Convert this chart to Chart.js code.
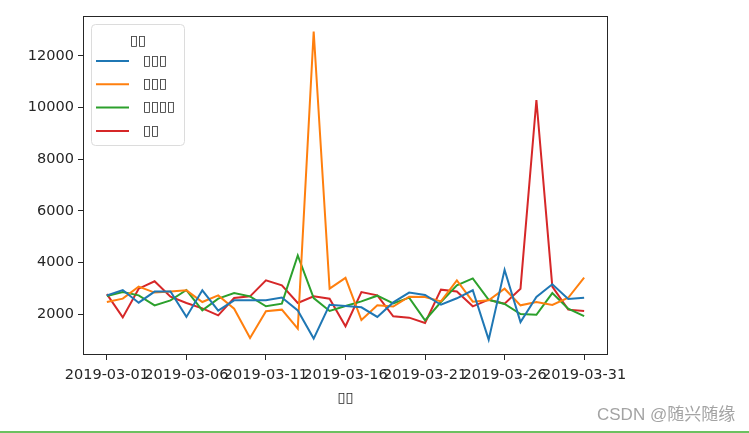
<!DOCTYPE html>
<html>
<head>
<meta charset="utf-8">
<script src="https://cdn.jsdelivr.net/npm/chart.js@4/dist/chart.umd.min.js"></script>
<style>
  html, body { margin: 0; padding: 0; background: #ffffff; }
  #wrap { position: relative; width: 749px; height: 433px; }
  canvas { display: block; }
</style>
</head>
<body>
<div id="wrap"><canvas id="c" width="749" height="433"></canvas></div>
<script>
// ---- data ----
const dates = [
  '2019-03-01','2019-03-02','2019-03-03','2019-03-04','2019-03-05','2019-03-06','2019-03-07',
  '2019-03-08','2019-03-09','2019-03-10','2019-03-11','2019-03-12','2019-03-13','2019-03-14',
  '2019-03-15','2019-03-16','2019-03-17','2019-03-18','2019-03-19','2019-03-20','2019-03-21',
  '2019-03-22','2019-03-23','2019-03-24','2019-03-25','2019-03-26','2019-03-27','2019-03-28',
  '2019-03-29','2019-03-30','2019-03-31'
];
const seriesNames = ['▯▯▯', '▯▯▯', '▯▯▯▯', '▯▯'];
const legendTitle = '▯▯';
const xAxisTitle = '▯▯';
const blueValues = [2733, 2940, 2450, 2880, 2880, 1900, 2930, 2140, 2540, 2540, 2540, 2650, 2150, 1060, 2370, 2320,
  2270, 1900, 2460, 2840, 2750, 2370, 2620, 2930, 1020, 3720, 1700, 2670, 3160, 2590, 2640];
const orangeValues = [2476, 2605, 3070, 2840, 2880, 2927, 2476, 2733, 2219, 1085, 2116, 2180, 1447, 12940, 2991, 3410,
  1780, 2347, 2300, 2680, 2670, 2500, 3313, 2490, 2540, 2991, 2347, 2476, 2360, 2640, 3416];
const greenValues = [2710, 2862, 2733, 2347, 2540, 2940, 2154, 2605, 2823, 2695, 2309, 2412, 4278, 2630, 2129, 2320,
  2500, 2720, 2420, 2644, 1768, 2476, 3120, 3390, 2560, 2400, 2010, 1980, 2823, 2219, 1930];
const redValues = [2780, 1880, 2990, 3280, 2680, 2440, 2230, 1961, 2630, 2695, 3313, 3120, 2437, 2695, 2605, 1537,
  2862, 2733, 1923, 1871, 1665, 2953, 2880, 2309, 2566, 2412, 2991, 10290, 3070, 2180, 2129];
const xTickIndex = [0, 5, 10, 15, 20, 25, 30];
const yTickValues = [2000, 4000, 6000, 8000, 10000, 12000];
const watermark = 'CSDN @随兴随缘';

const colors = ['#1f77b4', '#ff7f0e', '#2ca02c', '#d62728'];
const allSeries = [blueValues, orangeValues, greenValues, redValues];

const datasets = allSeries.map((vals, k) => ({
  label: seriesNames[k],
  data: vals.map((v, i) => ({ x: i, y: v })),
  borderColor: colors[k],
  backgroundColor: colors[k],
  borderWidth: 2,
  pointRadius: 0,
  tension: 0,
  fill: false
}));

const tickFont = { family: 'DejaVu Sans', size: 14.5 };
const textColor = '#262626';

const framePlugin = {
  id: 'frame',
  afterDatasetsDraw(chart) {
    const { ctx, chartArea: a } = chart;
    ctx.save();
    ctx.strokeStyle = '#262626';
    ctx.lineWidth = 1;
    ctx.strokeRect(Math.round(a.left) + 0.5, Math.round(a.top) + 0.5,
      Math.round(a.right - a.left) - 1, Math.round(a.bottom - a.top) - 1);
    ctx.restore();
  }
};

const legendPlugin = {
  id: 'innerLegend',
  afterDraw(chart) {
    const { ctx } = chart;
    ctx.save();
    const bx = 91.5, by = 24.5, bw = 93, bh = 121, r = 4;
    ctx.beginPath();
    ctx.moveTo(bx + r, by);
    ctx.arcTo(bx + bw, by, bx + bw, by + bh, r);
    ctx.arcTo(bx + bw, by + bh, bx, by + bh, r);
    ctx.arcTo(bx, by + bh, bx, by, r);
    ctx.arcTo(bx, by, bx + bw, by, r);
    ctx.closePath();
    ctx.fillStyle = 'rgba(255,255,255,0.8)';
    ctx.fill();
    ctx.strokeStyle = '#dcdcdc';
    ctx.lineWidth = 1;
    ctx.stroke();
    ctx.font = '14.5px "DejaVu Sans"';
    ctx.fillStyle = textColor;
    ctx.textBaseline = 'middle';
    ctx.textAlign = 'center';
    ctx.fillText(legendTitle, 138, 41);
    ctx.textAlign = 'left';
    chart.data.datasets.forEach((ds, k) => {
      const y = 61 + k * 23.3;
      ctx.strokeStyle = ds.borderColor;
      ctx.lineWidth = 2;
      ctx.beginPath();
      ctx.moveTo(96, y);
      ctx.lineTo(129, y);
      ctx.stroke();
      ctx.fillStyle = textColor;
      ctx.fillText(ds.label, 143, y);
    });
    ctx.restore();
  }
};

const extrasPlugin = {
  id: 'extras',
  afterDraw(chart) {
    const { ctx } = chart;
    ctx.save();
    ctx.font = '17px "Liberation Sans", "Noto Sans CJK SC"';
    ctx.fillStyle = '#a3a3a3';
    ctx.textBaseline = 'middle';
    ctx.textAlign = 'left';
    ctx.fillText(watermark, 597, 415);
    ctx.fillStyle = '#6cc160';
    ctx.fillRect(0, 431, 749, 2);
    ctx.restore();
  }
};

const bgPlugin = {
  id: 'bg',
  beforeDraw(chart) {
    const { ctx } = chart;
    ctx.save();
    ctx.fillStyle = '#ffffff';
    ctx.fillRect(0, 0, chart.width, chart.height);
    ctx.restore();
  }
};

new Chart(document.getElementById('c'), {
  type: 'line',
  data: { datasets },
  options: {
    responsive: false,
    animation: false,
    events: [],
    layout: { padding: { left: 0, right: 141, top: 16, bottom: 0 } },
    plugins: { legend: { display: false }, tooltip: { enabled: false } },
    scales: {
      x: {
        type: 'linear',
        min: -1.5,
        max: 31.5,
        afterBuildTicks(scale) { scale.ticks = xTickIndex.map(v => ({ value: v })); },
        afterFit(scale) { scale.height = 78; },
        ticks: {
          autoSkip: false,
          maxRotation: 0,
          minRotation: 0,
          padding: 7,
          color: textColor,
          font: tickFont,
          callback: (v) => dates[v]
        },
        grid: { display: true, drawOnChartArea: false, drawTicks: true, tickLength: 5, tickColor: '#262626' },
        border: { display: false },
        title: {
          display: true,
          text: xAxisTitle,
          color: textColor,
          font: tickFont,
          padding: { top: 0, bottom: 25.6 }
        }
      },
      y: {
        type: 'linear',
        min: 426,
        max: 13540,
        afterBuildTicks(scale) { scale.ticks = yTickValues.map(v => ({ value: v })); },
        afterFit(scale) { scale.width = 83; },
        ticks: { padding: 4, color: textColor, font: tickFont, callback: (v) => String(v) },
        grid: { display: true, drawOnChartArea: false, drawTicks: true, tickLength: 5, tickColor: '#262626' },
        border: { display: false }
      }
    }
  },
  plugins: [bgPlugin, framePlugin, legendPlugin, extrasPlugin]
});
</script>
</body>
</html>
